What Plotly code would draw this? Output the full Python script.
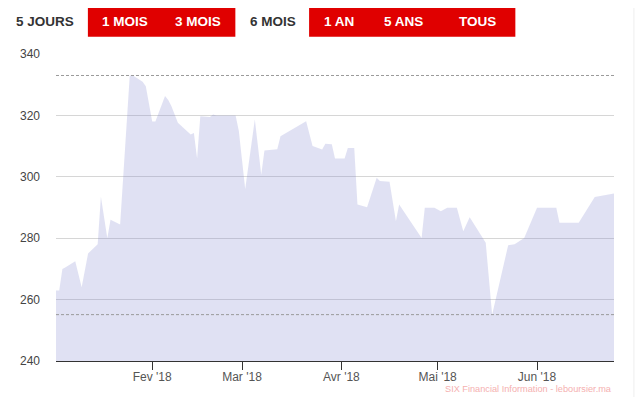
import plotly.graph_objects as go

# ---- data ----
dates = ["2018-01-02","2018-01-03","2018-01-04","2018-01-05","2018-01-08","2018-01-10",
         "2018-01-12","2018-01-15","2018-01-16","2018-01-18","2018-01-19","2018-01-22",
         "2018-01-25","2018-01-26","2018-01-29","2018-01-30","2018-02-01","2018-02-02",
         "2018-02-05","2018-02-06","2018-02-07","2018-02-08","2018-02-09","2018-02-13",
         "2018-02-14","2018-02-15","2018-02-16","2018-02-19","2018-02-20","2018-02-21",
         "2018-02-27","2018-02-28","2018-03-02","2018-03-05","2018-03-07","2018-03-08",
         "2018-03-12","2018-03-13","2018-03-21","2018-03-23","2018-03-26","2018-03-27",
         "2018-03-29","2018-03-30","2018-04-02","2018-04-03","2018-04-05","2018-04-06",
         "2018-04-09","2018-04-12","2018-04-13","2018-04-16","2018-04-18","2018-04-19",
         "2018-04-26","2018-04-27","2018-04-30","2018-05-02","2018-05-04","2018-05-07",
         "2018-05-09","2018-05-11","2018-05-15","2018-05-16","2018-05-18","2018-05-23",
         "2018-05-25","2018-05-28","2018-06-01","2018-06-07","2018-06-08","2018-06-14",
         "2018-06-19","2018-06-22","2018-06-25"]
values = [263.0, 263.0, 270.0, 270.5, 272.5, 264.0,
          275.0, 278.0, 293.5, 280.0, 286.0, 284.5,
          333.0, 333.0, 331.0, 329.5, 318.0, 318.0,
          326.3, 325.0, 323.0, 320.0, 317.6, 313.8,
          314.3, 306.0, 319.7, 319.5, 320.3, 320.0,
          320.0, 315.0, 296.0, 318.7, 300.7, 308.6,
          309.0, 313.2, 318.1, 310.0, 308.9, 310.8,
          310.6, 306.0, 306.0, 309.4, 309.4, 291.0,
          290.1, 299.7, 298.6, 298.4, 285.5, 291.0,
          280.1, 289.9, 289.9, 288.8, 289.9, 289.9,
          282.3, 286.8, 280.1, 278.5, 255.1, 277.7,
          278.0, 280.1, 289.9, 289.9, 285.0, 285.0,
          293.4, 293.9, 294.6]

month_ticks = ["2018-02-01", "2018-03-01", "2018-04-01", "2018-05-01", "2018-06-01"]
month_labels = ["Fev '18", "Mar '18", "Avr '18", "Mai '18", "Jun '18"]
y_ticks = [240, 260, 280, 300, 320, 340]

buttons = ["5 JOURS", "1 MOIS", "3 MOIS", "6 MOIS", "1 AN", "5 ANS", "TOUS"]
button_selected = [False, True, True, False, True, True, True]
credit = "SIX Financial Information - leboursier.ma"

# ---- layout helpers ----
# The page body has an 8px margin, so the figure is drawn 8px smaller and
# positions below are given in page pixels.
OFF = 8
PAGE_W, PAGE_H = 643, 398
W, H = PAGE_W - OFF, PAGE_H - OFF
PLOT_L, PLOT_R, PLOT_T, PLOT_B = 54, 614, 54, 361  # page pixels
L = PLOT_L - OFF
T = PLOT_T - OFF
R = W - (PLOT_R - OFF)
B = H - (PLOT_B - OFF)
PW = PLOT_R - PLOT_L
PH = PLOT_B - PLOT_T

def px(x):
    return (x - PLOT_L) / PW

def py(y):
    return (PLOT_B - y) / PH

fig = go.Figure()
fig.add_trace(go.Scatter(
    x=dates, y=values, mode="lines", fill="tozeroy",
    fillcolor="rgba(131,135,207,0.25)",
    line=dict(width=0, color="rgba(131,135,207,0.25)"),
    hoverinfo="skip", showlegend=False,
))

shapes = []
# max / min dashed plot lines
for v in (max(values), min(values)):
    shapes.append(dict(type="line", xref="paper", yref="y", x0=0, x1=1, y0=v, y1=v,
                       line=dict(color="#9a9a9a", width=1, dash="3px,2px"), layer="above"))
# range selector red backgrounds
shapes.append(dict(type="rect", xref="paper", yref="paper", x0=px(86), x1=px(234),
                   y0=py(36.7), y1=py(6), fillcolor="#e00000", line=dict(width=0)))
shapes.append(dict(type="rect", xref="paper", yref="paper", x0=px(308), x1=px(515),
                   y0=py(36.7), y1=py(6), fillcolor="#e00000", line=dict(width=0)))
# faint right border
shapes.append(dict(type="line", xref="paper", yref="paper", x0=px(634), x1=px(634),
                   y0=py(397), y1=py(8), line=dict(color="#eeeeee", width=1)))

btn_x = [43, 123, 197, 272, 338, 403, 477]
annotations = []
for label, sel, bx in zip(buttons, button_selected, btn_x):
    annotations.append(dict(
        text="<b>" + label + "</b>", xref="paper", yref="paper",
        x=px(bx), y=py(21.5), xanchor="center", yanchor="middle", showarrow=False,
        font=dict(family="Liberation Sans, Arial, sans-serif", size=13.5,
                  color="#ffffff" if sel else "#333333"),
    ))
annotations.append(dict(
    text=credit, xref="paper", yref="paper", x=px(614), y=py(388.5),
    xanchor="right", yanchor="middle", showarrow=False,
    font=dict(family="Liberation Sans, Arial, sans-serif", size=9.2, color="#f5b0b0"),
))

fig.update_layout(
    width=W, height=H,
    margin=dict(l=L, r=R, t=T, b=B, pad=0),
    paper_bgcolor="white", plot_bgcolor="white",
    shapes=shapes, annotations=annotations,
    xaxis=dict(
        type="date", range=[dates[0], dates[-1]],
        tickmode="array", tickvals=month_ticks, ticktext=month_labels,
        showgrid=False, zeroline=False,
        showline=True, linecolor="#333333", linewidth=1,
        ticks="outside", ticklen=8, tickcolor="#333333", tickwidth=1,
        ticklabelstandoff=-3,
        tickfont=dict(family="Liberation Sans, Arial, sans-serif", size=12, color="#555555"),
    ),
    yaxis=dict(
        range=[240, 340], tickmode="array", tickvals=y_ticks,
        showgrid=True, gridcolor="#d6d6d6", gridwidth=1,
        zeroline=False, showline=False, ticks="",
        ticklabelstandoff=15,
        tickfont=dict(family="Liberation Sans, Arial, sans-serif", size=12, color="#444444"),
    ),
)

fig.write_html("out.html")
